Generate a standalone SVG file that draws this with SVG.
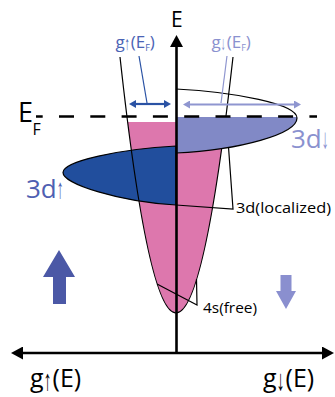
<svg xmlns="http://www.w3.org/2000/svg" width="335" height="397" viewBox="0 0 335 397">
<style>
text { font-family: "Open Sans", "Liberation Sans", sans-serif; }
.arw { font-family: "Liberation Sans", sans-serif; }
.thin { fill: none; stroke: #000; stroke-width: 1.2; }
.axis { fill: none; stroke: #000; stroke-width: 2.6; }
.pink { fill: #dd77ad; }
.dark { fill: #214e9d; }
.light { fill: #8189c6; }
</style>
<defs>
<clipPath id="belowEF"><rect x="0" y="117" width="335" height="280"/></clipPath>
<clipPath id="pinkClip"><rect x="0" y="122" width="335" height="280"/></clipPath>
<marker id="axHead" viewBox="0 0 12 13" refX="1" refY="6.5" markerWidth="12" markerHeight="13" orient="auto-start-reverse" markerUnits="userSpaceOnUse"><path d="M0,0 L12,6.5 L0,13 z" fill="#000"/></marker>
<marker id="upHead" viewBox="0 0 7 8" refX="0" refY="4" markerWidth="7" markerHeight="8" orient="auto-start-reverse" markerUnits="userSpaceOnUse"><path d="M0,0 L7,4 L0,8 z" fill="#2a52a4"/></marker>
<marker id="dnHead" viewBox="0 0 7 8" refX="0" refY="4" markerWidth="7" markerHeight="8" orient="auto-start-reverse" markerUnits="userSpaceOnUse"><path d="M0,0 L7,4 L0,8 z" fill="#8f96d0"/></marker>
</defs>

<g id="band-4s">
<path class="pink" clip-path="url(#pinkClip)" d="M120,57 Q148,313 176,313 Q204.5,313 233,57 Z"/>
</g>
<g id="band-3d-up">
<path class="dark" stroke="#000" stroke-width="1.2" d="M176,146 C120,149 63,161 63,172.5 C63,184 120,202 176,205 Z"/>
</g>
<g id="outline-4s">
<path class="thin" d="M120,57 Q148,313 176,313 Q204.5,313 233,57"/>
</g>
<g id="band-3d-down">
<path class="light" clip-path="url(#belowEF)" d="M176,89 C235,92 297,104 297,118 C297,134 240,150 176,153 Z"/>
<path class="thin" d="M176,89 C235,92 297,104 297,118 C297,134 240,150 176,153"/>
</g>

<g id="connectors">
<line x1="139" y1="56" x2="147" y2="103" stroke="#2a52a4" stroke-width="1.2"/>
<line x1="227" y1="56" x2="221" y2="103" stroke="#8f96d0" stroke-width="1.2"/>
<line x1="136" y1="104" x2="164" y2="104" stroke="#2a52a4" stroke-width="2.2" marker-start="url(#upHead)" marker-end="url(#upHead)"/>
<line x1="190" y1="104.5" x2="294" y2="104.5" stroke="#8f96d0" stroke-width="2.2" marker-start="url(#dnHead)" marker-end="url(#dnHead)"/>
<polyline class="thin" points="176,205 233,209 228.5,147"/>
<polyline class="thin" points="157,284 197,305 196.5,279"/>
</g>

<g id="axes">
<line class="axis" x1="176.5" y1="353" x2="176.5" y2="46" marker-end="url(#axHead)"/>
<line class="axis" x1="22" y1="353" x2="323" y2="353" marker-start="url(#axHead)" marker-end="url(#axHead)"/>
<line x1="36" y1="116.5" x2="317" y2="116.5" stroke="#000" stroke-width="2.6" stroke-dasharray="15 16.3" stroke-dashoffset="8.3"/>
</g>

<g id="spin-arrows">
<polygon fill="#4b58a6" points="59,250 75,277 66,277 66,304 53,304 53,277 43,277"/>
<polygon fill="#8a8fcf" points="286,309 296,291 291.5,291 291.5,275 280.5,275 280.5,291 276,291"/>
</g>

<g id="labels">
<text x="171" y="27" font-size="21">E</text>
<text x="18" y="122" font-size="27">E</text>
<text x="32.5" y="135" font-size="16">F</text>
<text x="115.5" y="48" font-size="17" fill="#4a63b5">g<tspan class="arw" font-size="19" dy="2" textLength="5" lengthAdjust="spacingAndGlyphs">↑</tspan><tspan dx="1" dy="-2">(E</tspan><tspan font-size="9" dy="3">F</tspan><tspan dy="-3">)</tspan></text>
<text x="211.5" y="48" font-size="17" fill="#8a91cf">g<tspan class="arw" font-size="19" dy="2" textLength="5" lengthAdjust="spacingAndGlyphs">↓</tspan><tspan dx="1" dy="-2">(E</tspan><tspan font-size="9" dy="3">F</tspan><tspan dy="-3">)</tspan></text>
<text x="26" y="198" font-size="26" fill="#4f5fb2">3d<tspan class="arw" font-size="28" textLength="7" lengthAdjust="spacingAndGlyphs">↑</tspan></text>
<text x="291" y="148" font-size="26" fill="#8a91cf">3d<tspan class="arw" font-size="28" textLength="7" lengthAdjust="spacingAndGlyphs">↓</tspan></text>
<text x="236" y="213" font-size="15" textLength="95" lengthAdjust="spacingAndGlyphs">3d(localized)</text>
<text x="203" y="313" font-size="14.5" textLength="54" lengthAdjust="spacingAndGlyphs">4s(free)</text>
<text x="30" y="387" font-size="25">g<tspan class="arw" font-size="29" dy="3" textLength="8" lengthAdjust="spacingAndGlyphs">↑</tspan><tspan dx="1" dy="-3">(E)</tspan></text>
<text x="263" y="387" font-size="25">g<tspan class="arw" font-size="29" dy="3" textLength="8" lengthAdjust="spacingAndGlyphs">↓</tspan><tspan dx="1" dy="-3">(E)</tspan></text>
</g>
</svg>
